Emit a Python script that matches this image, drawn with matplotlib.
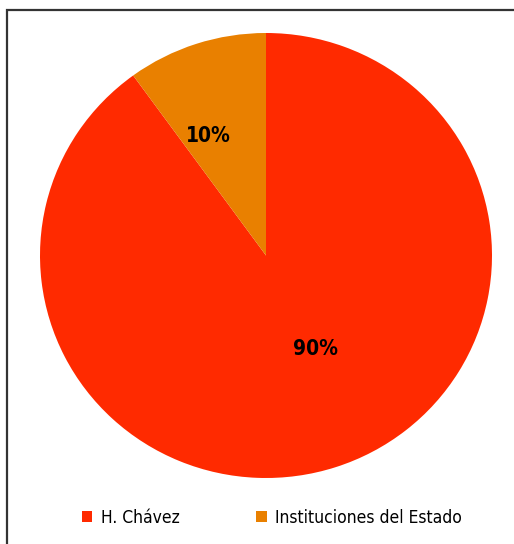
import matplotlib.pyplot as plt
from matplotlib.patches import Rectangle

# participación por fuente
categorias = ['H. Chávez', 'Instituciones del Estado']
valores = [90, 10]
colores = ['#FF2A00', '#E98000']

fig = plt.figure(figsize=(5.14, 5.44), dpi=100)
ax = fig.add_axes([40 / 514, 66 / 544, 452 / 514, 445 / 544])

wedges, textos, pct = ax.pie(valores, colors=colores, startangle=90,
                             counterclock=False, autopct='%1.0f%%',
                             wedgeprops={'linewidth': 0},
                             textprops={'fontsize': 15, 'fontweight': 'bold',
                                        'fontstretch': 'condensed',
                                        'family': 'DejaVu Sans'})
ax.set_aspect('auto')
ax.set_xlim(-1, 1)
ax.set_ylim(-1, 1)

# posiciones de las etiquetas de porcentaje
pct[0].set_position((0.217, -0.418))
pct[1].set_position((-0.257, 0.539))

fig.legend(wedges, categorias, loc='center', bbox_to_anchor=(272 / 514, 26 / 544),
           ncol=2, frameon=False, handlelength=0.6, handleheight=0.6,
           handletextpad=0.5, columnspacing=4.4,
           prop={'family': 'DejaVu Sans', 'stretch': 'condensed', 'size': 12.5})

# marco del gráfico
fig.patches.append(Rectangle((6.5 / 514, -0.1), 1.1, 1.1 - 10.5 / 544,
                             transform=fig.transFigure, fill=False,
                             edgecolor='#333333', linewidth=1.6))

fig.savefig('out.png', dpi=100)
